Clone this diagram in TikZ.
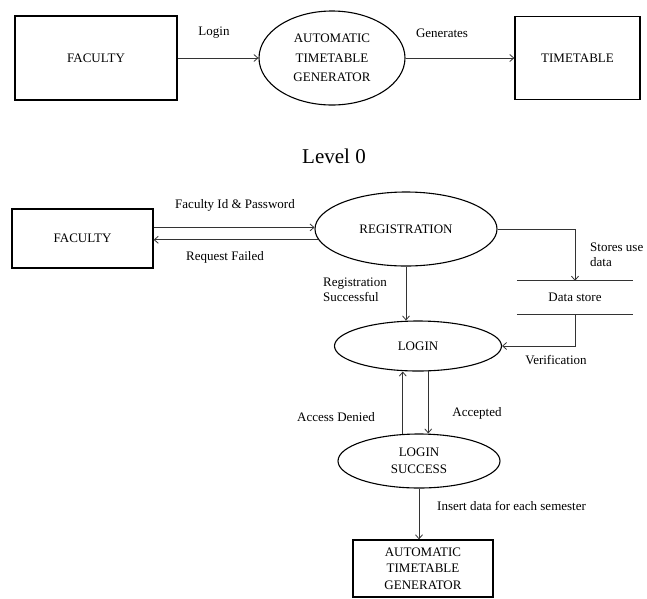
\documentclass[tikz,border=0pt]{standalone}
\usepackage{fontspec}
\setmainfont{Liberation Serif}
\usetikzlibrary{arrows.meta, positioning, shapes.geometric, calc}

\begin{document}
\begin{tikzpicture}[x=1pt, y=-1pt,
    box/.style={draw, line width=1.3pt, inner sep=0pt, align=center, font=\fontsize{13}{16.5}\selectfont},
    proc/.style={draw, ellipse, line width=1.1pt, inner sep=0pt, align=center, font=\fontsize{13}{17}\selectfont},
    flow/.style={draw=black!80, line width=0.8pt, -{Straight Barb[length=4pt, width=7pt]}},
    lbl/.style={font=\fontsize{13}{15}\selectfont, inner sep=0pt, align=left}]
    \useasboundingbox (0,0) rectangle (647,598);

    % Level 0
    \node[box, minimum width=162pt, minimum height=84pt] (fac0) at (96,58) {FACULTY};
    \node[proc, minimum width=146pt, minimum height=94pt, font=\fontsize{13}{19.5}\selectfont] (gen0) at (332,58) {AUTOMATIC\\TIMETABLE\\GENERATOR};
    \node[box, minimum width=125pt, minimum height=83pt] (tt0) at (577.5,58) {TIMETABLE};
    \draw[flow] (fac0) -- (gen0);
    \draw[flow] (gen0) -- (tt0);
    \node[lbl] (login0) at (214,33) {Login};
    \node[lbl] (gens0) at (442,33) {Generates};
    \node[font=\fontsize{21}{24}\selectfont] (lvl0) at (334,156) {Level 0};

    % Level 1
    \node[box, minimum width=141pt, minimum height=59pt] (fac1) at (82.5,238.5) {FACULTY};
    \node[proc, minimum width=182pt, minimum height=74pt] (reg) at (406,229) {REGISTRATION};
    \node[minimum width=116pt, minimum height=33pt, inner sep=0pt, lbl] (ds) at (575,297.5) {Data store};
    \draw[line width=0.8pt, black!80] (ds.north west) -- (ds.north east);
    \draw[line width=0.8pt, black!80] (ds.south west) -- (ds.south east);
    \node[proc, minimum width=167pt, minimum height=50pt] (log) at (418,346) {LOGIN};
    \node[proc, minimum width=162pt, minimum height=54pt] (ls) at (419,461) {LOGIN\\SUCCESS};
    \node[box, minimum width=140pt, minimum height=57pt] (gen1) at (423,568.5) {AUTOMATIC\\TIMETABLE\\GENERATOR};

    % Flows
    \draw[flow] (fac1.east |- reg.179) -- (reg.179);
    \draw[flow] (reg.187) -- (fac1.east |- reg.187);
    \draw[flow] (reg.east) -| (ds.north);
    \draw[flow] (ds.south) |- (log.east);
    \draw[flow] (reg.south) -- (reg.south |- log.north);
    \draw[flow] (ls.121) -- (ls.121 |- log.south);
    \draw[flow] (log.-68) -- (log.-68 |- ls.north);
    \draw[flow] (ls.south) -- (ls.south |- gen1.north);

    % Labels
    \node[lbl] (fidp) at (235,205) {Faculty Id \& Password};
    \node[lbl] (rqf) at (225,257) {Request Failed};
    \node[lbl, anchor=west] (stu) at (590,255) {Stores use\\data};
    \node[lbl, anchor=west] (regs) at (323,290) {Registration\\Successful};
    \node[lbl] (ver) at (556,360) {Verification};
    \node[lbl] (acd) at (336,417) {Access Denied};
    \node[lbl] (acc) at (477,413) {Accepted};
    \node[lbl, anchor=west] (ins) at (437,506) {Insert data for each semester};
\end{tikzpicture}
\end{document}
